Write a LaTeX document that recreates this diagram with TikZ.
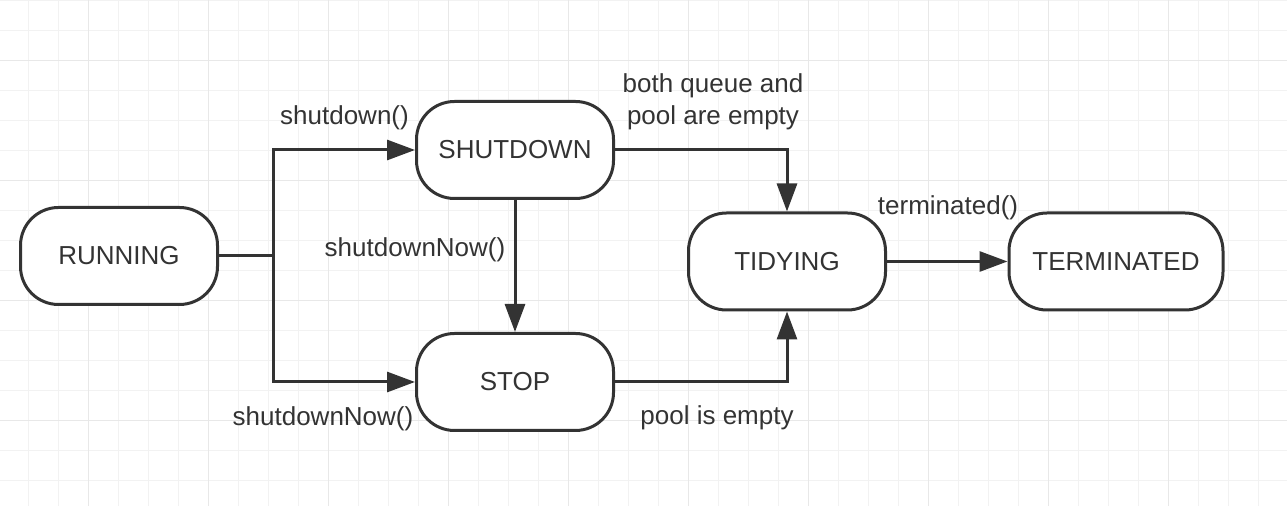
\documentclass[tikz,border=0pt]{standalone}
\usepackage{fontspec}
\setmainfont{Liberation Sans}
\usetikzlibrary{arrows.meta}
\definecolor{ink}{HTML}{333333}
\tikzset{
	state/.style={draw=ink, line width=1.5pt, rounded corners=19pt, fill=white, text=ink,
		minimum width=98.5pt, minimum height=48.5pt, font=\fontsize{13}{15}\selectfont},
	link/.style={draw=ink, line width=1.5pt},
	arrow/.style={link, -{Triangle[length=14pt,width=10pt]}},
	lbl/.style={text=ink, inner sep=0pt, align=center, font=\fontsize{13}{16}\selectfont},
	minorline/.style={draw=black!5, line width=0.5pt},
	majorline/.style={draw=black!9, line width=0.5pt}
}

\begin{document}
\begin{tikzpicture}[x=0.5pt, y=-0.5pt]
				\useasboundingbox (0,0) rectangle (1287,506);
				\fill[white] (0,0) rectangle (1287,506);
				% grid
				\foreach \gx in {28.3,58.3,...,1287} \draw[minorline] (\gx,0) -- (\gx,506);
				\foreach \gy in {0.7,30.7,...,506} \draw[minorline] (0,\gy) -- (1287,\gy);
				\foreach \gx in {88.3,208.3,...,1287} \draw[majorline] (\gx,0) -- (\gx,506);
				\foreach \gy in {60.7,180.7,...,506} \draw[majorline] (0,\gy) -- (1287,\gy);

				\node[state] (running) at (119,256) {RUNNING};
				\node[state] (shutdown) at (515,150) {SHUTDOWN};
				\node[state] (stop) at (515,382) {STOP};
				\node[state] (tidying) at (787,261.5) {TIDYING};
				\node[state, minimum width=107pt] (terminated) at (1116,261.5) {TERMINATED};
				\coordinate (fork) at (273,256);

				\draw[link] (running) -- (fork);
				\draw[arrow] (fork) |- (shutdown.west);
				\draw[arrow] (fork) |- (stop.west);
				\draw[arrow] (shutdown) -- (stop);
				\draw[arrow] (shutdown.east) -| (tidying.north);
				\draw[arrow] (stop.east) -| (tidying.south);
				\draw[arrow] (tidying) -- (terminated);

				\node[lbl] (lshutdown) at (344.5,118) {shutdown()};
				\node[lbl] (lnowmid) at (415,250) {shutdownNow()};
				\node[lbl] (lnowlow) at (323,419) {shutdownNow()};
				\node[lbl] (lempty) at (713,102) {both queue and\\pool are empty};
				\node[lbl] (lterm) at (948,208) {terminated()};
				\node[lbl] (lpool) at (717,418) {pool is empty};
			\end{tikzpicture}
\end{document}
